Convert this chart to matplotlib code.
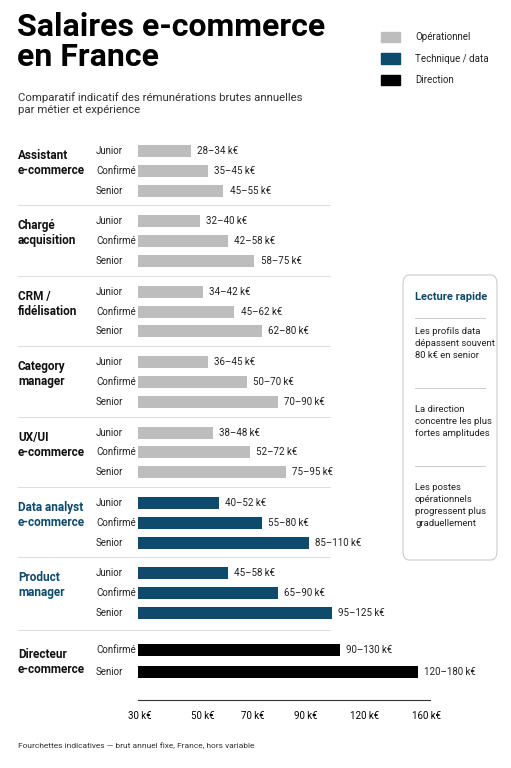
import matplotlib
matplotlib.use("Agg")
import matplotlib.pyplot as plt
from matplotlib.patches import FancyBboxPatch, Rectangle

plt.rcParams['font.family'] = ['Roboto', 'DejaVu Sans']

groups = ["Assistant\ne-commerce", "Chargé\nacquisition", "CRM /\nfidélisation", "Category\nmanager",
          "UX/UI\ne-commerce", "Data analyst\ne-commerce", "Product\nmanager", "Directeur\ne-commerce"]
levels = [["Junior", "Confirmé", "Senior"]] * 7 + [["Confirmé", "Senior"]]
low = [[28, 35, 45], [32, 42, 58], [34, 45, 62], [36, 50, 70], [38, 52, 75], [40, 55, 85], [45, 65, 95], [90, 120]]
high = [[34, 45, 55], [40, 58, 75], [42, 62, 80], [45, 70, 90], [48, 72, 95], [52, 80, 110], [58, 90, 125], [130, 180]]
cats = ["op", "op", "op", "op", "op", "tech", "tech", "dir"]
tick_labels = ["30 k€", "50 k€", "70 k€", "90 k€", "120 k€", "160 k€"]
tick_pos = [1, 42, 74, 108, 146, 186]

colors = {"op": "#bdbdbd", "tech": "#0e4a6c", "dir": "#000000"}
W, H = 511, 768
fig = plt.figure(figsize=(W/100, H/100), dpi=100)

def fx(px): return px / W
def fy(py): return 1 - py / H

ax = fig.add_axes([fx(138), fy(700), fx(430) - fx(138), fy(135) - fy(700)])
ax.set_ylim(700, 135)
ax.set_xlim(0, 188)
for s in ["top", "right", "left"]:
    ax.spines[s].set_visible(False)
ax.spines["bottom"].set_color("#333333")
ax.set_yticks([])
ax.set_xticks(tick_pos)
ax.set_xticklabels(tick_labels, fontsize=7)
ax.tick_params(axis="x", length=0, pad=8)

for g in range(len(groups)):
    if g < 7:
        ys = [151 + g * 70.4 + j * 19.8 for j in range(3)]
    else:
        ys = [650, 672]
    for j, lv in enumerate(levels[g]):
        y = ys[j]
        ax.barh(y, high[g][j], height=12, left=0, color=colors[cats[g]])
        ax.text(high[g][j] + 4, y, f"{low[g][j]}–{high[g][j]} k€", va="center", fontsize=7, color="#222")
        fig.text(fx(96), fy(y), lv, va="center", fontsize=7, color="#222")
    gc = colors["tech"] if cats[g] == "tech" else "#111"
    fig.text(fx(18), fy(ys[0] - 2), groups[g], va="top", fontsize=8.5, fontweight="bold", color=gc, linespacing=1.2)
    if g > 0:
        yy = 135 + g * 70.4 if g < 7 else 630
        fig.add_artist(plt.Line2D([fx(18), fx(330)], [fy(yy), fy(yy)], color="#dddddd", lw=0.7))

fig.text(fx(17), fy(12), "Salaires e-commerce\nen France", va="top", fontsize=23, fontweight="bold", linespacing=1.0)
fig.text(fx(18), fy(92), "Comparatif indicatif des rémunérations brutes annuelles\npar métier et expérience",
         va="top", fontsize=8.2, color="#333", linespacing=1.3)

for i, (lab, c) in enumerate([("Opérationnel", "op"), ("Technique / data", "tech"), ("Direction", "dir")]):
    y = 37 + i * 21.5
    fig.add_artist(Rectangle((fx(381), fy(y + 5)), fx(19), fy(0) - fy(10), color=colors[c], transform=fig.transFigure))
    fig.text(fx(415), fy(y), lab, va="center", fontsize=7, color="#222")

box = FancyBboxPatch((fx(403), fy(560)), fx(94), fy(275) - fy(560), boxstyle="round,pad=0,rounding_size=0.012",
                     transform=fig.transFigure, facecolor="white", edgecolor="#cccccc", lw=0.8)
fig.add_artist(box)
fig.text(fx(415), fy(297), "Lecture rapide", va="center", fontsize=8, fontweight="bold", color=colors["tech"])
notes = ["Les profils data\ndépassent souvent\n80 k€ en senior",
         "La direction\nconcentre les plus\nfortes amplitudes",
         "Les postes\nopérationnels\nprogressent plus\ngraduellement"]
for ny, t in zip([327, 405, 483], notes):
    fig.text(fx(415), fy(ny), t, va="top", fontsize=6.8, color="#222", linespacing=1.45)
for ly in [318, 388, 466]:
    fig.add_artist(plt.Line2D([fx(415), fx(485)], [fy(ly), fy(ly)], color="#cccccc", lw=0.7))

fig.text(fx(18), fy(746), "Fourchettes indicatives — brut annuel fixe, France, hors variable", va="center", fontsize=6, color="#333")
fig.savefig("out.png", dpi=100)
